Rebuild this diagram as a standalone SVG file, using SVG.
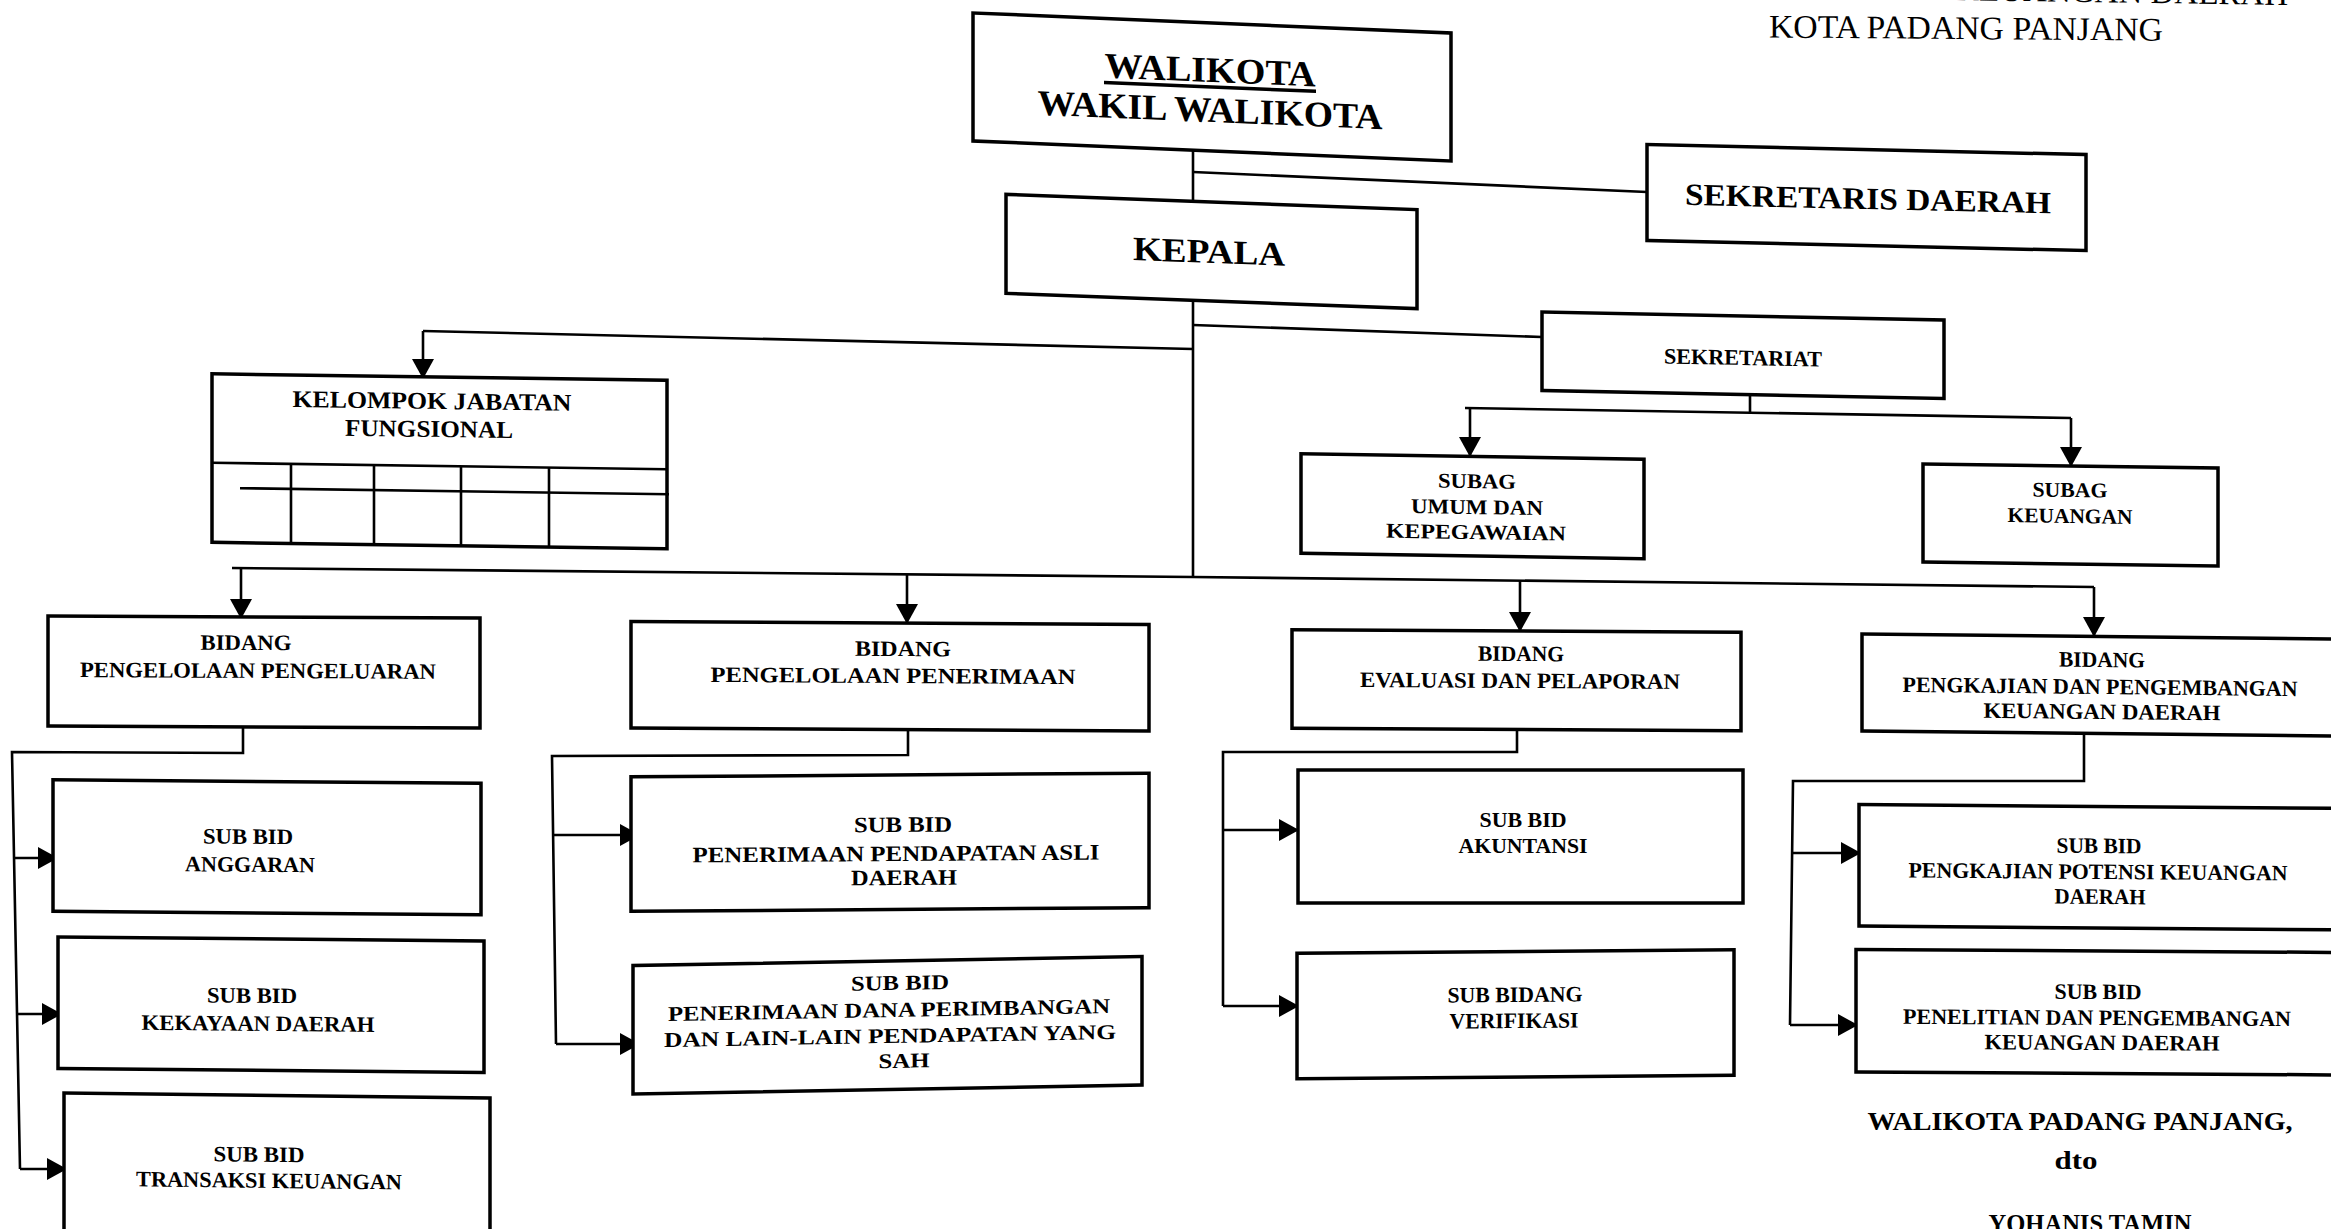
<svg xmlns="http://www.w3.org/2000/svg" width="2331" height="1229" viewBox="0 0 2331 1229">
<defs>
<style>
.bx{fill:#fff;stroke:#000;stroke-width:3.5}
.ln{fill:none;stroke:#000;stroke-width:2.6}
.ar{fill:none;stroke:#000;stroke-width:2.6;marker-end:url(#ah)}
.t{font-family:"Liberation Serif","Times New Roman",serif;font-weight:bold;text-anchor:middle;fill:#000}
.s22{font-size:22px}
.s21{font-size:21px}
.s24{font-size:24px}
.s26{font-size:26px}
.hd{font-family:"Liberation Serif","Times New Roman",serif;font-size:33px;fill:#000}
</style>
<marker id="ah" markerUnits="userSpaceOnUse" markerWidth="20" markerHeight="22" refX="20" refY="11" orient="auto">
<path d="M0,0 L20,11 L0,22 z" fill="#000"/>
</marker>
</defs>
<rect width="2331" height="1229" fill="#fff"/>

<g id="header">
<text class="hd" x="2288" y="5" text-anchor="end" transform="matrix(1 0.015 0 1 0 -34.3)">KEUANGAN DAERAH</text>
<text class="hd" x="1769" y="39" transform="matrix(1 0.008 0 1 0 -15.7)" textLength="394" lengthAdjust="spacingAndGlyphs">KOTA PADANG PANJANG</text>
</g>

<g id="connectors">
<line class="ln" x1="1193" y1="148" x2="1193" y2="202"/>
<line class="ln" x1="1193" y1="300" x2="1193" y2="578"/>
<line class="ln" x1="1193" y1="172" x2="1647" y2="192"/>
<line class="ln" x1="1193" y1="349" x2="423" y2="331"/>
<line class="ar" x1="423" y1="331" x2="423" y2="379"/>
<line class="ln" x1="1193" y1="325" x2="1542" y2="337"/>
<line class="ln" x1="1750" y1="394" x2="1750" y2="413"/>
<line class="ln" x1="1465" y1="408" x2="2071" y2="418"/>
<line class="ar" x1="1470" y1="408" x2="1470" y2="457"/>
<line class="ar" x1="2071" y1="418" x2="2071" y2="467"/>
<polyline class="ln" points="232,568 1193,577 2094,587"/>
<line class="ar" x1="241" y1="569" x2="241" y2="619"/>
<line class="ar" x1="907" y1="575" x2="907" y2="624"/>
<line class="ar" x1="1520" y1="581" x2="1520" y2="632"/>
<line class="ar" x1="2094" y1="587" x2="2094" y2="637"/>
<polyline class="ln" points="243,727 243,753 12,752 20,1169"/>
<line class="ar" x1="14" y1="858" x2="58" y2="858"/>
<line class="ar" x1="16" y1="1014" x2="62" y2="1014"/>
<line class="ar" x1="20" y1="1169" x2="67" y2="1169"/>
<polyline class="ln" points="908,729 908,755 552,756 556,1044"/>
<line class="ar" x1="553" y1="835" x2="640" y2="835"/>
<line class="ar" x1="556" y1="1044" x2="640" y2="1044"/>
<polyline class="ln" points="1517,729 1517,752 1223,752 1223,1006"/>
<line class="ar" x1="1223" y1="830" x2="1299" y2="830"/>
<line class="ar" x1="1223" y1="1006" x2="1299" y2="1006"/>
<polyline class="ln" points="2084,733 2084,781 1793,781 1790,1025"/>
<line class="ar" x1="1793" y1="853" x2="1861" y2="853"/>
<line class="ar" x1="1790" y1="1025" x2="1858" y2="1025"/>
</g>

<g id="walikota" transform="matrix(1 0.042 0 1 0 -50.9)">
<rect class="bx" x="973" y="23" width="478" height="128"/>
<text class="t" x="1210" y="82" font-size="36" textLength="211" lengthAdjust="spacingAndGlyphs">WALIKOTA</text>
<line x1="1104" y1="87" x2="1316" y2="87" stroke="#000" stroke-width="3.5"/>
<text class="t" x="1210" y="122" font-size="36" textLength="345" lengthAdjust="spacingAndGlyphs">WAKIL WALIKOTA</text>
</g>

<g id="sekda" transform="matrix(1 0.023 0 1 0 -42.9)">
<rect class="bx" x="1647" y="149.5" width="439" height="96"/>
<text class="t" x="1868" y="209" font-size="31" textLength="366" lengthAdjust="spacingAndGlyphs">SEKRETARIS DAERAH</text>
</g>

<g id="kepala" transform="matrix(1 0.037 0 1 0 -44.8)">
<rect class="bx" x="1006" y="202" width="411" height="99"/>
<text class="t" x="1209" y="263" font-size="34" textLength="152" lengthAdjust="spacingAndGlyphs">KEPALA</text>
</g>

<g id="sekretariat" transform="matrix(1 0.02 0 1 0 -34.86)">
<rect class="bx" x="1542" y="316" width="402" height="78.5"/>
<text class="t s22" x="1743" y="365" textLength="158" lengthAdjust="spacingAndGlyphs">SEKRETARIAT</text>
</g>

<g id="subag-umum" transform="matrix(1 0.016 0 1 0 -23.55)">
<rect class="bx" x="1301" y="456.5" width="343" height="99.5"/>
<text class="t s21" x="1477" y="488" textLength="78" lengthAdjust="spacingAndGlyphs">SUBAG</text>
<text class="t s21" x="1477" y="514" textLength="132" lengthAdjust="spacingAndGlyphs">UMUM DAN</text>
<text class="t s21" x="1476" y="539" textLength="180" lengthAdjust="spacingAndGlyphs">KEPEGAWAIAN</text>
</g>

<g id="subag-keuangan" transform="matrix(1 0.014 0 1 0 -28.98)">
<rect class="bx" x="1923" y="466" width="295" height="98"/>
<text class="t s21" x="2070" y="497" textLength="75" lengthAdjust="spacingAndGlyphs">SUBAG</text>
<text class="t s21" x="2070" y="523" textLength="125" lengthAdjust="spacingAndGlyphs">KEUANGAN</text>
</g>

<g id="kelompok-jabatan-fungsional" transform="matrix(1 0.014 0 1 0 -6.16)">
<rect class="bx" x="212" y="377" width="455" height="168.5"/>
<line class="ln" x1="212" y1="466" x2="667" y2="466" stroke-width="3.5"/>
<line class="ln" x1="240" y1="491" x2="669" y2="491"/>
<line class="ln" x1="291" y1="466" x2="291" y2="545"/>
<line class="ln" x1="374" y1="466" x2="374" y2="545"/>
<line class="ln" x1="461" y1="466" x2="461" y2="545"/>
<line class="ln" x1="549" y1="466" x2="549" y2="545"/>
<text class="t s24" x="432" y="409" textLength="279" lengthAdjust="spacingAndGlyphs">KELOMPOK JABATAN</text>
<text class="t s24" x="429" y="437" textLength="168" lengthAdjust="spacingAndGlyphs">FUNGSIONAL</text>
</g>

<g id="bidang-pengeluaran" transform="matrix(1 0.005 0 1 0 -1.32)">
<rect class="bx" x="48" y="617" width="432" height="110"/>
<text class="t s22" x="246" y="650" textLength="91" lengthAdjust="spacingAndGlyphs">BIDANG</text>
<text class="t s22" x="258" y="678" textLength="356" lengthAdjust="spacingAndGlyphs">PENGELOLAAN PENGELUARAN</text>
</g>

<g id="subbid-anggaran" transform="matrix(1 0.008 0 1 0 -2.14)">
<rect class="bx" x="53" y="781.5" width="428" height="131.5"/>
<text class="t s22" x="248" y="844" textLength="90" lengthAdjust="spacingAndGlyphs">SUB BID</text>
<text class="t s22" x="250" y="872" textLength="130" lengthAdjust="spacingAndGlyphs">ANGGARAN</text>
</g>

<g id="subbid-kekayaan" transform="matrix(1 0.009 0 1 0 -2.44)">
<rect class="bx" x="58" y="939" width="426" height="131.5"/>
<text class="t s22" x="252" y="1003" textLength="90" lengthAdjust="spacingAndGlyphs">SUB BID</text>
<text class="t s22" x="258" y="1031" textLength="233" lengthAdjust="spacingAndGlyphs">KEKAYAAN DAERAH</text>
</g>

<g id="subbid-transaksi" transform="matrix(1 0.012 0 1 0 -3.32)">
<rect class="bx" x="64" y="1095.5" width="426" height="150"/>
<text class="t s22" x="259" y="1162" textLength="91" lengthAdjust="spacingAndGlyphs">SUB BID</text>
<text class="t s22" x="269" y="1188" textLength="266" lengthAdjust="spacingAndGlyphs">TRANSAKSI KEUANGAN</text>
</g>

<g id="bidang-penerimaan" transform="matrix(1 0.006 0 1 0 -5.34)">
<rect class="bx" x="631" y="623" width="518" height="106.5"/>
<text class="t s22" x="903" y="656" textLength="96" lengthAdjust="spacingAndGlyphs">BIDANG</text>
<text class="t s22" x="893" y="683" textLength="365" lengthAdjust="spacingAndGlyphs">PENGELOLAAN PENERIMAAN</text>
</g>

<g id="subbid-pad" transform="matrix(1 -0.007 0 1 0 6.23)">
<rect class="bx" x="631" y="775" width="518" height="134.5"/>
<text class="t s22" x="903" y="832" textLength="98" lengthAdjust="spacingAndGlyphs">SUB BID</text>
<text class="t s22" x="896" y="861" textLength="407" lengthAdjust="spacingAndGlyphs">PENERIMAAN PENDAPATAN ASLI</text>
<text class="t s22" x="904" y="885" textLength="106" lengthAdjust="spacingAndGlyphs">DAERAH</text>
</g>

<g id="subbid-dana" transform="matrix(1 -0.018 0 1 0 15.98)">
<rect class="bx" x="633" y="961" width="509" height="128.5"/>
<text class="t s21" x="900" y="990" textLength="98" lengthAdjust="spacingAndGlyphs">SUB BID</text>
<text class="t s21" x="889" y="1017" textLength="442" lengthAdjust="spacingAndGlyphs">PENERIMAAN DANA PERIMBANGAN</text>
<text class="t s21" x="890" y="1043" textLength="452" lengthAdjust="spacingAndGlyphs">DAN LAIN-LAIN PENDAPATAN  YANG</text>
<text class="t s21" x="904" y="1068" textLength="51" lengthAdjust="spacingAndGlyphs">SAH</text>
</g>

<g id="bidang-evaluasi" transform="matrix(1 0.006 0 1 0 -9.1)">
<rect class="bx" x="1292" y="631" width="449" height="98.5"/>
<text class="t s22" x="1521" y="661" textLength="86" lengthAdjust="spacingAndGlyphs">BIDANG</text>
<text class="t s22" x="1520" y="688" textLength="320" lengthAdjust="spacingAndGlyphs">EVALUASI DAN PELAPORAN</text>
</g>

<g id="subbid-akuntansi">
<rect class="bx" x="1298" y="770" width="445" height="133"/>
<text class="t s22" x="1523" y="827" textLength="87" lengthAdjust="spacingAndGlyphs">SUB BID</text>
<text class="t s22" x="1523" y="853" textLength="129" lengthAdjust="spacingAndGlyphs">AKUNTANSI</text>
</g>

<g id="subbidang-verifikasi" transform="matrix(1 -0.008 0 1 0 12.12)">
<rect class="bx" x="1297" y="951.5" width="437" height="125.5"/>
<text class="t s22" x="1515" y="1002" textLength="135" lengthAdjust="spacingAndGlyphs">SUB BIDANG</text>
<text class="t s22" x="1514" y="1028" textLength="129" lengthAdjust="spacingAndGlyphs">VERIFIKASI</text>
</g>

<g id="bidang-pengkajian" transform="matrix(1 0.0107 0 1 0 -22.47)">
<rect class="bx" x="1862" y="636.5" width="490" height="97"/>
<text class="t s22" x="2102" y="667" textLength="86" lengthAdjust="spacingAndGlyphs">BIDANG</text>
<text class="t s22" x="2100" y="694" textLength="395" lengthAdjust="spacingAndGlyphs">PENGKAJIAN DAN PENGEMBANGAN</text>
<text class="t s22" x="2102" y="719" textLength="237" lengthAdjust="spacingAndGlyphs">KEUANGAN   DAERAH</text>
</g>

<g id="subbid-potensi" transform="matrix(1 0.008 0 1 0 -16.8)">
<rect class="bx" x="1859" y="806.5" width="490" height="121.5"/>
<text class="t s22" x="2099" y="853" textLength="85" lengthAdjust="spacingAndGlyphs">SUB BID</text>
<text class="t s22" x="2098" y="879" textLength="379" lengthAdjust="spacingAndGlyphs">PENGKAJIAN POTENSI KEUANGAN</text>
<text class="t s22" x="2100" y="904" textLength="91" lengthAdjust="spacingAndGlyphs">DAERAH</text>
</g>

<g id="subbid-penelitian" transform="matrix(1 0.006 0 1 0 -12.6)">
<rect class="bx" x="1856" y="951" width="490" height="122.5"/>
<text class="t s22" x="2098" y="999" textLength="87" lengthAdjust="spacingAndGlyphs">SUB BID</text>
<text class="t s22" x="2097" y="1025" textLength="388" lengthAdjust="spacingAndGlyphs">PENELITIAN DAN PENGEMBANGAN</text>
<text class="t s22" x="2102" y="1050" textLength="235" lengthAdjust="spacingAndGlyphs">KEUANGAN DAERAH</text>
</g>

<g id="signature">
<text class="t s26" x="2080" y="1130" textLength="425" lengthAdjust="spacingAndGlyphs">WALIKOTA PADANG PANJANG,</text>
<text class="t s26" x="2076" y="1169" textLength="43" lengthAdjust="spacingAndGlyphs">dto</text>
<text class="t s26" x="2090" y="1232" textLength="203" lengthAdjust="spacingAndGlyphs">YOHANIS TAMIN</text>
</g>
</svg>
